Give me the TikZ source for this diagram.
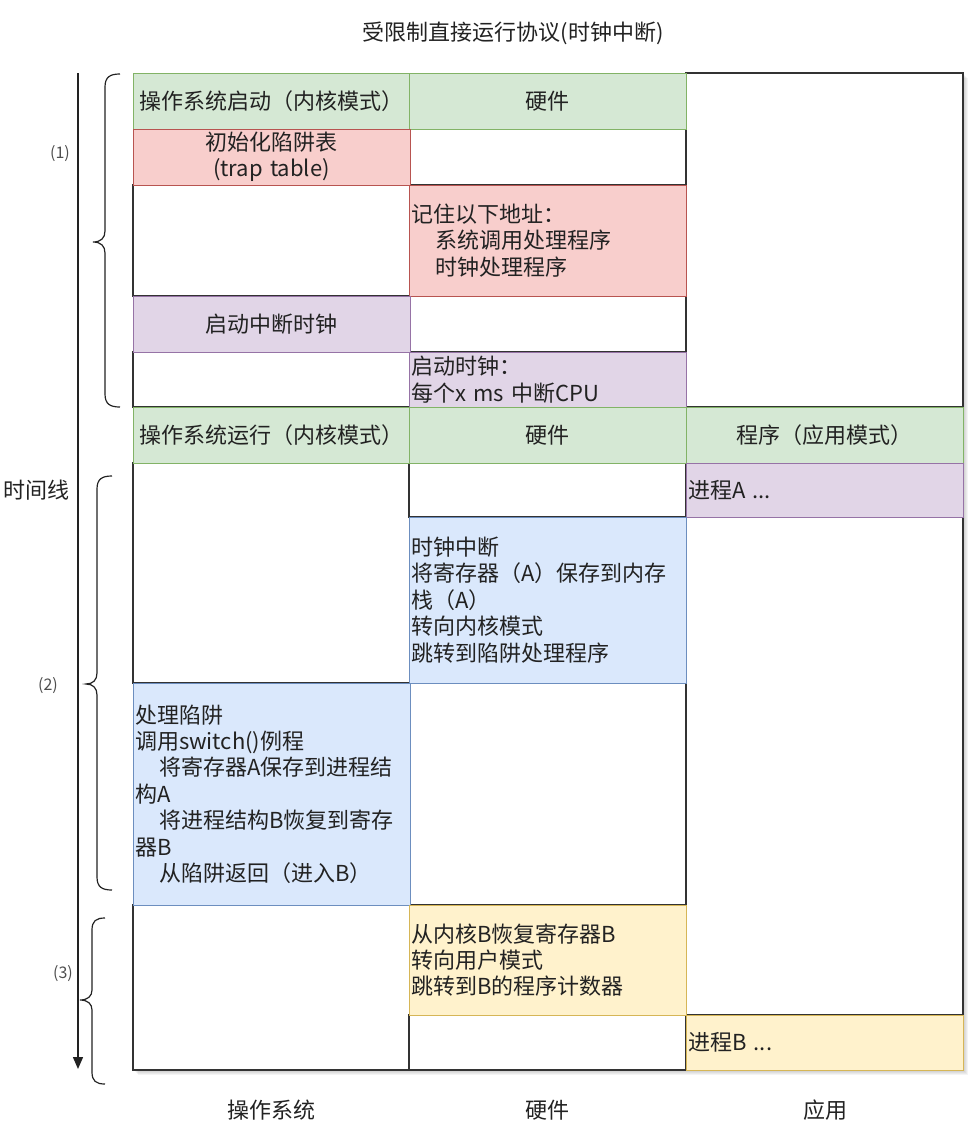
\documentclass[tikz,border=0pt]{standalone}
\usepackage{fontspec}
\newfontfamily\cjk{Noto Sans CJK SC}
\usetikzlibrary{arrows.meta}
\definecolor{gfill}{HTML}{D5E8D4}\definecolor{gline}{HTML}{82B366}
\definecolor{rfill}{HTML}{F8CECC}\definecolor{rline}{HTML}{B85450}
\definecolor{pfill}{HTML}{E1D5E7}\definecolor{pline}{HTML}{9673A6}
\definecolor{bfill}{HTML}{DAE8FC}\definecolor{bline}{HTML}{6C8EBF}
\definecolor{yfill}{HTML}{FFF2CC}\definecolor{yline}{HTML}{D6B656}
\definecolor{txt}{HTML}{222222}
\definecolor{frame}{HTML}{333333}
\tikzset{
  cell/.style={rectangle, anchor=north west, outer sep=0pt, inner xsep=2pt, inner ysep=0pt,
    text width=273pt, font=\cjk\fontsize{22}{26.4}\selectfont, text=txt},
  wcell/.style={cell, fill=white, draw=frame, line width=1.3pt},
  gcell/.style={cell, fill=gfill, draw=gline, line width=1pt, align=center},
  rcell/.style={cell, fill=rfill, draw=rline, line width=1pt},
  pcell/.style={cell, fill=pfill, draw=pline, line width=1pt},
  bcell/.style={cell, fill=bfill, draw=bline, line width=1pt, align=left},
  ycell/.style={cell, fill=yfill, draw=yline, line width=1pt, align=left},
  lbl/.style={font=\cjk\fontsize{22}{26.4}\selectfont, text=txt, inner sep=0pt},
  small/.style={font=\cjk\fontsize{16}{19}\selectfont, text=txt!80, inner sep=0pt},
  bracepath/.style={draw=txt, line width=1.2pt},
}
\begin{document}
\begin{tikzpicture}[x=1pt, y=-1pt]
\useasboundingbox (0,0) rectangle (975,1133);
% shadow
\foreach \d in {2,3,4,5}
  \fill[black, opacity=0.045] (133+\d,73+\d) rectangle (963+\d,1070+\d);

% ---- white cells ----
\node[wcell, minimum height=56pt] (c2r2) at (409,129) {};
\node[wcell, minimum height=111pt] (c1r3) at (133,185) {};
\node[wcell, minimum height=56pt] (c2r4) at (409,296) {};
\node[wcell, minimum height=55pt] (c1r5) at (133,352) {};
\node[wcell, minimum height=334pt] (c3top) at (686,73) {};
\node[wcell, minimum height=220pt] (c1r7) at (133,463) {};
\node[wcell, minimum height=54pt] (c2r7) at (409,463) {};
\node[wcell, minimum height=222pt] (c2r9) at (409,683) {};
\node[wcell, minimum height=165pt] (c1r10) at (133,905) {};
\node[wcell, minimum height=55pt] (c2r11) at (409,1015) {};
\node[wcell, minimum height=498pt] (c3r8) at (686,517) {};

% ---- coloured cells ----
\node[gcell, minimum height=56pt] (h1a) at (133,73) {操作系统启动（内核模式）};
\node[gcell, minimum height=56pt] (h1b) at (409,73) {硬件};
\node[rcell, align=center, minimum height=56pt] (trap) at (133,129) {初始化陷阱表\\(trap table)};
\node[rcell, align=left, minimum height=111pt] (remember) at (409,185)
  {记住以下地址：\\\hspace*{24pt}系统调用处理程序\\\hspace*{24pt}时钟处理程序};
\node[pcell, align=center, minimum height=56pt] (startint) at (133,296) {启动中断时钟};
\node[pcell, align=left, minimum height=55pt] (startclk) at (409,352)
  {启动时钟：\\每个x ms 中断CPU};
\node[gcell, minimum height=56pt] (h2a) at (133,407) {操作系统运行（内核模式）};
\node[gcell, minimum height=56pt] (h2b) at (409,407) {硬件};
\node[gcell, minimum height=56pt] (h2c) at (686,407) {程序（应用模式）};
\node[pcell, align=left, minimum height=54pt] (procA) at (686,463) {进程A ...};
\node[bcell, minimum height=166pt] (clkint) at (409,517)
  {时钟中断\\将寄存器（A）保存到内存\\栈（A）\\转向内核模式\\跳转到陷阱处理程序};
\node[bcell, minimum height=222pt] (handle) at (133,683)
  {处理陷阱\\调用switch()例程\\\hspace*{24pt}将寄存器A保存到进程结\\构A\\\hspace*{24pt}将进程结构B恢复到寄存\\器B\\\hspace*{24pt}从陷阱返回（进入B）};
\node[ycell, minimum height=110pt] (restore) at (409,905)
  {从内核B恢复寄存器B\\转向用户模式\\跳转到B的程序计数器};
\node[ycell, minimum height=55pt] (procB) at (686,1015) {进程B ...};

% ---- title and column labels ----
\node[lbl] (title) at (513,33) {受限制直接运行协议(时钟中断)};
\node[lbl] (lblos) at (271,1110) {操作系统};
\node[lbl] (lblhw) at (547,1110) {硬件};
\node[lbl] (lblapp) at (825,1110) {应用};

% ---- timeline ----
\coordinate (tl0) at (78,73);
\coordinate (tl1) at (78,1069);
\draw[draw=txt, line width=1.5pt, -{Triangle[length=12pt,width=10pt]}] (tl0) -- (tl1);
\node[lbl] (timeline) at (37,490) {时间线};

% ---- braces ----
\path[bracepath] (120,74) .. controls (110,74) and (105,77) .. (105,87) -- (105,231)
  .. controls (105,238) and (101,242) .. (93,242) .. controls (101,242) and (105,246) .. (105,253)
  -- (105,394) .. controls (105,404) and (110,407) .. (120,407);
\path[bracepath] (112,476) .. controls (102,476) and (97,479) .. (97,489) -- (97,673)
  .. controls (97,680) and (93,684) .. (86,684) .. controls (93,684) and (97,688) .. (97,695)
  -- (97,877) .. controls (97,887) and (102,890) .. (112,890);
\path[bracepath] (105,918) .. controls (96,918) and (92,921) .. (92,930) -- (92,990)
  .. controls (92,996) and (88,1000) .. (80,1000) .. controls (88,1000) and (92,1004) .. (92,1010)
  -- (92,1072) .. controls (92,1081) and (96,1084) .. (105,1084);
\node[small] (b1) at (60,154) {(1)};
\node[small] (b2) at (48,686) {(2)};
\node[small] (b3) at (63,974) {(3)};
\end{tikzpicture}
\end{document}
